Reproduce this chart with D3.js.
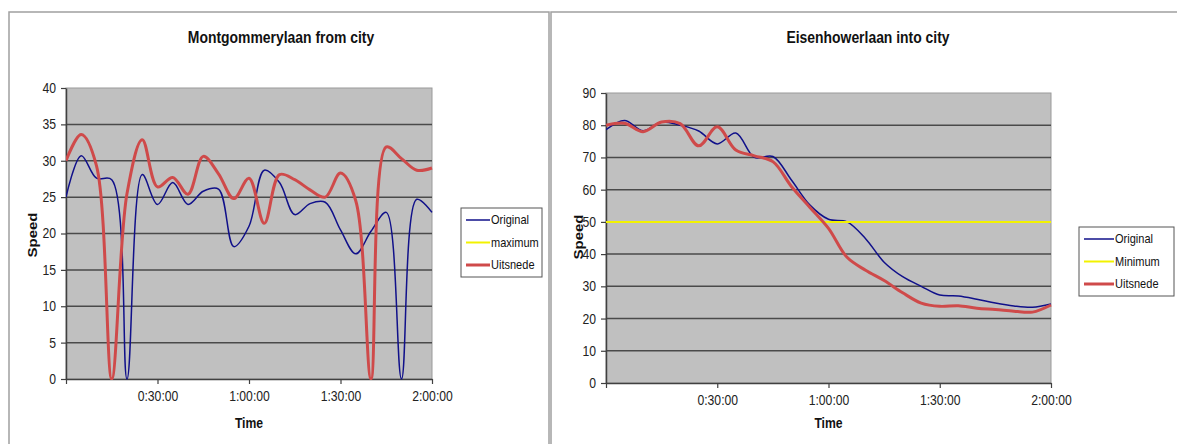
<!DOCTYPE html>
<html>
<head>
<meta charset="utf-8">
<script src="https://cdn.jsdelivr.net/npm/d3@7"></script>
<style>
  body { margin: 0; background: #fff; }
  svg { display: block; font-family: "Liberation Sans", Arial, sans-serif; }
</style>
</head>
<body>
<svg id="chart" width="1177" height="444"></svg>
<script>
/*------------------------
  -------- DATA ---------
  ------------------------*/

// minutes since start, one sample every 5 minutes
var minutes = [0,5,10,15,20,25,30,35,40,45,50,55,60,65,70,75,80,85,90,95,100,105,110,115,120];

var timeTickValues = [0, 30, 60, 90, 120];
var timeTickLabels = ["", "0:30:00", "1:00:00", "1:30:00", "2:00:00"];

// Montgommerylaan from city
var montOriginal = [25,30.7,27.6,27.4,0,28.1,24,27,24,25.8,26.1,18.2,21,28.7,27,22.6,24.1,24.3,20.5,17.2,20.3,22.9,0,24.7,22.9];
var montUitsnede = [30,33.6,29.3,0,25.5,32.9,26.4,27.7,25.4,30.6,28.2,24.8,27.6,21.4,28.1,27.4,26,25,28.3,24.5,0,31.9,30.3,28.7,29];
var montTicks = [0,5,10,15,20,25,30,35,40];

// Eisenhowerlaan into city
var eisOriginal = [78.6,81.5,78.3,81,80,78.2,74.2,77.6,70,70.3,63,55.2,50.8,50,44.8,37.5,33,30,27.3,27,26,24.8,23.9,23.5,24.5];
var eisUitsnede = [80,80.6,78,81,80.5,73.6,79.5,72.3,70.5,68.7,61,54.5,48,39,35,31.8,28,24.8,23.8,24,23.2,22.8,22.3,22,24.2];
var eisMinimum = [50,50,50,50,50,50,50,50,50,50,50,50,50,50,50,50,50,50,50,50,50,50,50,50,50];
var eisTicks = [0,10,20,30,40,50,60,70,80,90];

var colBlue = "#10108a";
var colRed = "#cf4a4a";
var colYellow = "#f2f200";

// the original picture is a little squeezed sideways
var sq = 0.87;

/*------------------------
  ------- DRAWING --------
  ------------------------*/

var svg = d3.select("#chart");

function put_text(g, x, y, txt, size, bold, anchor, rot) {
    var tr = "translate(" + x + "," + y + ")" + (rot ? " rotate(-90) scale(1," + sq + ")" : " scale(" + sq + ",1)");
    return g.append("text")
        .attr("transform", tr)
        .attr("text-anchor", anchor)
        .attr("font-size", size)
        .attr("font-weight", bold ? "bold" : "normal")
        .attr("fill", "#111")
        .text(txt);
}

function draw_chart(c) {
    var g = svg.append("g");

    // outer frame
    g.append("rect")
        .attr("x", c.frame[0]).attr("y", c.frame[1])
        .attr("width", c.frame[2]).attr("height", c.frame[3])
        .attr("fill", "#fff")
        .attr("stroke", "#a0a0a0")
        .attr("stroke-width", 1.5);

    var x = d3.scaleLinear().domain([0, 120]).range([c.left, c.right]);
    var y = d3.scaleLinear().domain([0, c.yMax]).range([c.bottom, c.top]);

    // plot area
    g.append("rect")
        .attr("x", c.left).attr("y", c.top)
        .attr("width", c.right - c.left).attr("height", c.bottom - c.top)
        .attr("fill", "#c0c0c0")
        .attr("stroke", "#9a9a9a")
        .attr("stroke-width", 1);

    // grid lines
    g.append("g")
        .selectAll("line")
        .data(c.yTicks.slice(1, -1))
        .enter()
        .append("line")
        .attr("x1", c.left).attr("x2", c.right)
        .attr("y1", function(d) { return y(d); })
        .attr("y2", function(d) { return y(d); })
        .attr("stroke", "#4a4a4a")
        .attr("stroke-width", 1.5);

    // y axis
    var yAxis = d3.axisLeft(y).tickValues(c.yTicks).tickSize(5).tickSizeOuter(0);
    var ya = g.append("g").attr("transform", "translate(" + c.left + ",0)").call(yAxis);
    ya.select(".domain").attr("stroke", "#404040").attr("stroke-width", 1.5);
    ya.selectAll(".tick line").attr("stroke", "#404040").attr("stroke-width", 1.2);
    ya.selectAll("text")
        .attr("font-size", 14).attr("fill", "#222")
        .attr("font-family", "Liberation Sans, Arial, sans-serif")
        .attr("x", -10 / sq)
        .attr("transform", "scale(" + sq + ",1)");

    // x axis
    var xAxis = d3.axisBottom(x).tickValues(timeTickValues).tickSize(5).tickSizeOuter(0)
        .tickFormat(function(d, i) { return timeTickLabels[i]; });
    var xa = g.append("g").attr("transform", "translate(0," + c.bottom + ")").call(xAxis);
    xa.select(".domain").attr("stroke", "#404040").attr("stroke-width", 1.5);
    xa.selectAll(".tick line").attr("stroke", "#404040").attr("stroke-width", 1.2);
    xa.selectAll("text")
        .attr("font-size", 14).attr("fill", "#222")
        .attr("font-family", "Liberation Sans, Arial, sans-serif")
        .attr("y", c.xLabelDy)
        .attr("transform", "scale(" + sq + ",1)");

    // clip for the curves
    g.append("clipPath").attr("id", "clip" + c.id)
        .append("rect")
        .attr("x", c.left).attr("y", c.top - 2)
        .attr("width", c.right - c.left + 2).attr("height", c.bottom - c.top + 3);

    var line = d3.line()
        .x(function(d, i) { return x(minutes[i]); })
        .y(function(d) { return y(d); })
        .curve(d3.curveCatmullRom.alpha(0.5));

    var lines = g.append("g").attr("clip-path", "url(#clip" + c.id + ")");

    c.series.forEach(function(s) {
        if (!s.values) return;
        lines.append("path")
            .attr("d", line(s.values))
            .attr("fill", "none")
            .attr("stroke", s.color)
            .attr("stroke-width", s.width)
            .attr("stroke-linejoin", "round");
    });

    // titles
    put_text(g, c.titleX, 43, c.title, 16, true, "middle");
    put_text(g, (c.left + c.right) / 2, 428, "Time", 14, true, "middle");
    put_text(g, c.speedX, c.speedY, "Speed", 15, true, "middle", true);

    // legend
    var lg = g.append("g").attr("transform", "translate(" + c.legend[0] + "," + c.legend[1] + ")");
    lg.append("rect")
        .attr("width", c.legend[2]).attr("height", 69)
        .attr("fill", "#fff")
        .attr("stroke", "#555")
        .attr("stroke-width", 1);

    var rows = lg.selectAll(".lrow")
        .data(c.series)
        .enter()
        .append("g")
        .attr("class", "lrow")
        .attr("transform", function(d, i) { return "translate(0," + (12 + i * 22.5) + ")"; });

    rows.append("line")
        .attr("x1", 5).attr("x2", c.legendLine)
        .attr("stroke", function(d) { return d.color; })
        .attr("stroke-width", function(d) { return d.width; });

    rows.append("text")
        .attr("transform", "translate(" + (c.legendLine + 1) + ",4) scale(0.92,1)")
        .attr("font-size", 12)
        .attr("fill", "#111")
        .text(function(d) { return d.name; });
}

/*---------------------
        -- RUN --
  ---------------------*/

draw_chart({
    id: 1,
    frame: [9, 12, 540, 450],
    left: 66, right: 432, top: 88, bottom: 379,
    yMax: 40, yTicks: montTicks,
    xLabelDy: 12,
    title: "Montgommerylaan from city", titleX: 281,
    speedX: 37, speedY: 235,
    legend: [461, 208, 81], legendLine: 29,
    series: [
        { name: "Original", values: montOriginal, color: colBlue, width: 1.5 },
        { name: "maximum", values: null, color: colYellow, width: 2 },
        { name: "Uitsnede", values: montUitsnede, color: colRed, width: 3 }
    ]
});

draw_chart({
    id: 2,
    frame: [551, 12, 640, 450],
    left: 606, right: 1051, top: 93, bottom: 383,
    yMax: 90, yTicks: eisTicks,
    xLabelDy: 12,
    title: "Eisenhowerlaan into city", titleX: 868,
    speedX: 583, speedY: 237,
    legend: [1079, 227, 95], legendLine: 35,
    series: [
        { name: "Original", values: eisOriginal, color: colBlue, width: 1.5 },
        { name: "Minimum", values: eisMinimum, color: colYellow, width: 2 },
        { name: "Uitsnede", values: eisUitsnede, color: colRed, width: 3 }
    ]
});
</script>
</body>
</html>
